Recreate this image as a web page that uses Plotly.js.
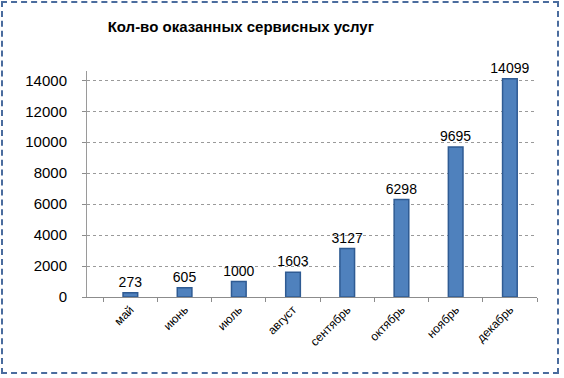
<!DOCTYPE html>
<html><head><meta charset="utf-8">
<script src="https://cdn.plot.ly/plotly-3.0.1.min.js"></script>
<style>
html,body{margin:0;padding:0;background:#fff;}
#wrap{position:relative;width:564px;height:378px;}
#chart{width:564px;height:378px;}
#frame{position:absolute;left:1px;top:1px;width:558px;height:373px;border:2px dashed #4a6c9e;pointer-events:none;box-sizing:border-box;}
</style></head>
<body>
<div id="wrap"><div id="chart"></div><div id="frame"></div></div>
<script>
const months = ["май","июнь","июль","август","сентябрь","октябрь","ноябрь","декабрь"];
const services = [273, 605, 1000, 1603, 3127, 6298, 9695, 14099];
const yTicks = [0, 2000, 4000, 6000, 8000, 10000, 12000, 14000];
const titleText = "Кол-во оказанных сервисных услуг";

Plotly.newPlot("chart", [{
  type: "bar",
  x: months,
  y: services,
  width: 0.27,
  marker: {color: "#4f81bd", line: {color: "#2f5b93", width: 1.5}},
  text: services.map(String),
  textposition: "outside",
  constraintext: "none",
  cliponaxis: false,
  textfont: {family: "Liberation Sans, Arial", size: 14, color: "#000"},
  hoverinfo: "none"
}], {
  width: 564, height: 378,
  margin: {l: 87, r: 27, t: 71, b: 81},
  paper_bgcolor: "#fff", plot_bgcolor: "#fff",
  showlegend: false,
  title: {text: titleText, x: 0.427, xanchor: "center", y: 0.928, yanchor: "middle",
          font: {family: "Liberation Sans, Arial", size: 15, color: "#000", weight: "bold"}},
  xaxis: {
    type: "category", range: [-0.8, 7.5],
    tickangle: -45, tickfont: {family: "Liberation Sans, Arial", size: 12, color: "#000"},
    showline: true, linecolor: "#8c8c8c", linewidth: 1,
    ticks: "outside", tickson: "boundaries", ticklen: 4, tickcolor: "#8c8c8c",
    showgrid: false, zeroline: false, fixedrange: true
  },
  yaxis: {
    range: [0, 14600], tickvals: yTicks, ticktext: yTicks.map(String),
    tickfont: {family: "Liberation Sans, Arial", size: 15, color: "#000"},
    showline: true, linecolor: "#9a9a9a", linewidth: 1,
    ticks: "outside", ticklen: 4, tickcolor: "#8c8c8c", ticklabelstandoff: 12,
    showgrid: true, gridcolor: "#9a9a9a", griddash: "dot", gridwidth: 1,
    zeroline: false, fixedrange: true
  },
  bargap: 0.5
}, {staticPlot: true});
</script>
</body></html>
